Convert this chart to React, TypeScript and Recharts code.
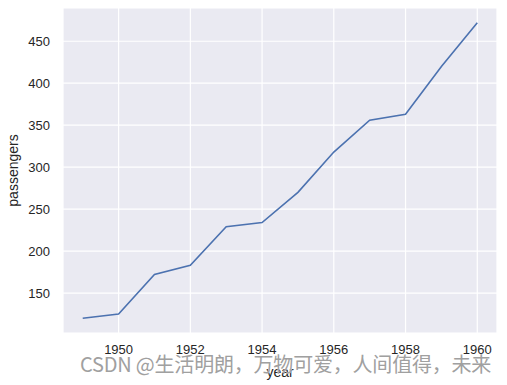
import { LineChart, Line, XAxis, YAxis, CartesianGrid, Label } from 'recharts';

const years = [1949, 1950, 1951, 1952, 1953, 1954, 1955, 1956, 1957, 1958, 1959, 1960];
const passengers = [120, 125, 172, 183, 229, 234, 270, 318, 356, 363, 420, 472];
const xTicks = [1950, 1952, 1954, 1956, 1958, 1960];
const yTicks = [150, 200, 250, 300, 350, 400, 450];

const data = years.map((year, i) => ({ year, passengers: passengers[i] }));

const tickStyle = { fill: '#262626', fontSize: 13, fontFamily: 'Liberation Sans, Arial, sans-serif' };

const App = () => {
  return (
    <div style={{ position: 'fixed', left: 0, top: 0, width: 507, height: 385, background: '#fff' }}>
      <LineChart width={507} height={385} data={data} margin={{ top: 8, right: 10, left: 0, bottom: 0 }}>
        <CartesianGrid fill="#EAEAF2" stroke="#fff" strokeWidth={1.2} />
        <XAxis
          dataKey="year"
          type="number"
          domain={[1948.45, 1960.55]}
          ticks={xTicks}
          axisLine={false}
          tickLine={false}
          tickSize={0}
          tickMargin={12}
          height={52}
          tick={tickStyle}
        >
          <Label value="year" position="insideBottom" offset={8} style={{ ...tickStyle, fontSize: 14 }} />
        </XAxis>
        <YAxis
          type="number"
          domain={[102.4, 489.6]}
          ticks={yTicks}
          axisLine={false}
          tickLine={false}
          tickSize={0}
          tickMargin={13}
          width={63}
          tick={tickStyle}
        >
          <Label value="passengers" angle={-90} position="insideLeft" offset={13} style={{ ...tickStyle, fontSize: 14, textAnchor: 'middle' }} />
        </YAxis>
        <Line
          dataKey="passengers"
          stroke="#4C72B0"
          strokeWidth={1.6}
          dot={false}
          isAnimationActive={false}
        />
      </LineChart>
      <div
        style={{
          position: 'absolute',
          left: 80,
          top: 352,
          fontSize: 20,
          lineHeight: '24px',
          color: '#a0a0a0',
          fontFamily: 'Noto Sans CJK SC, sans-serif',
          whiteSpace: 'nowrap',
          letterSpacing: -0.2,
          textShadow: '0 0 1px #fff',
        }}
      >
        CSDN @生活明朗，万物可爱，人间值得，未来
      </div>
    </div>
  );
};

export default App;
